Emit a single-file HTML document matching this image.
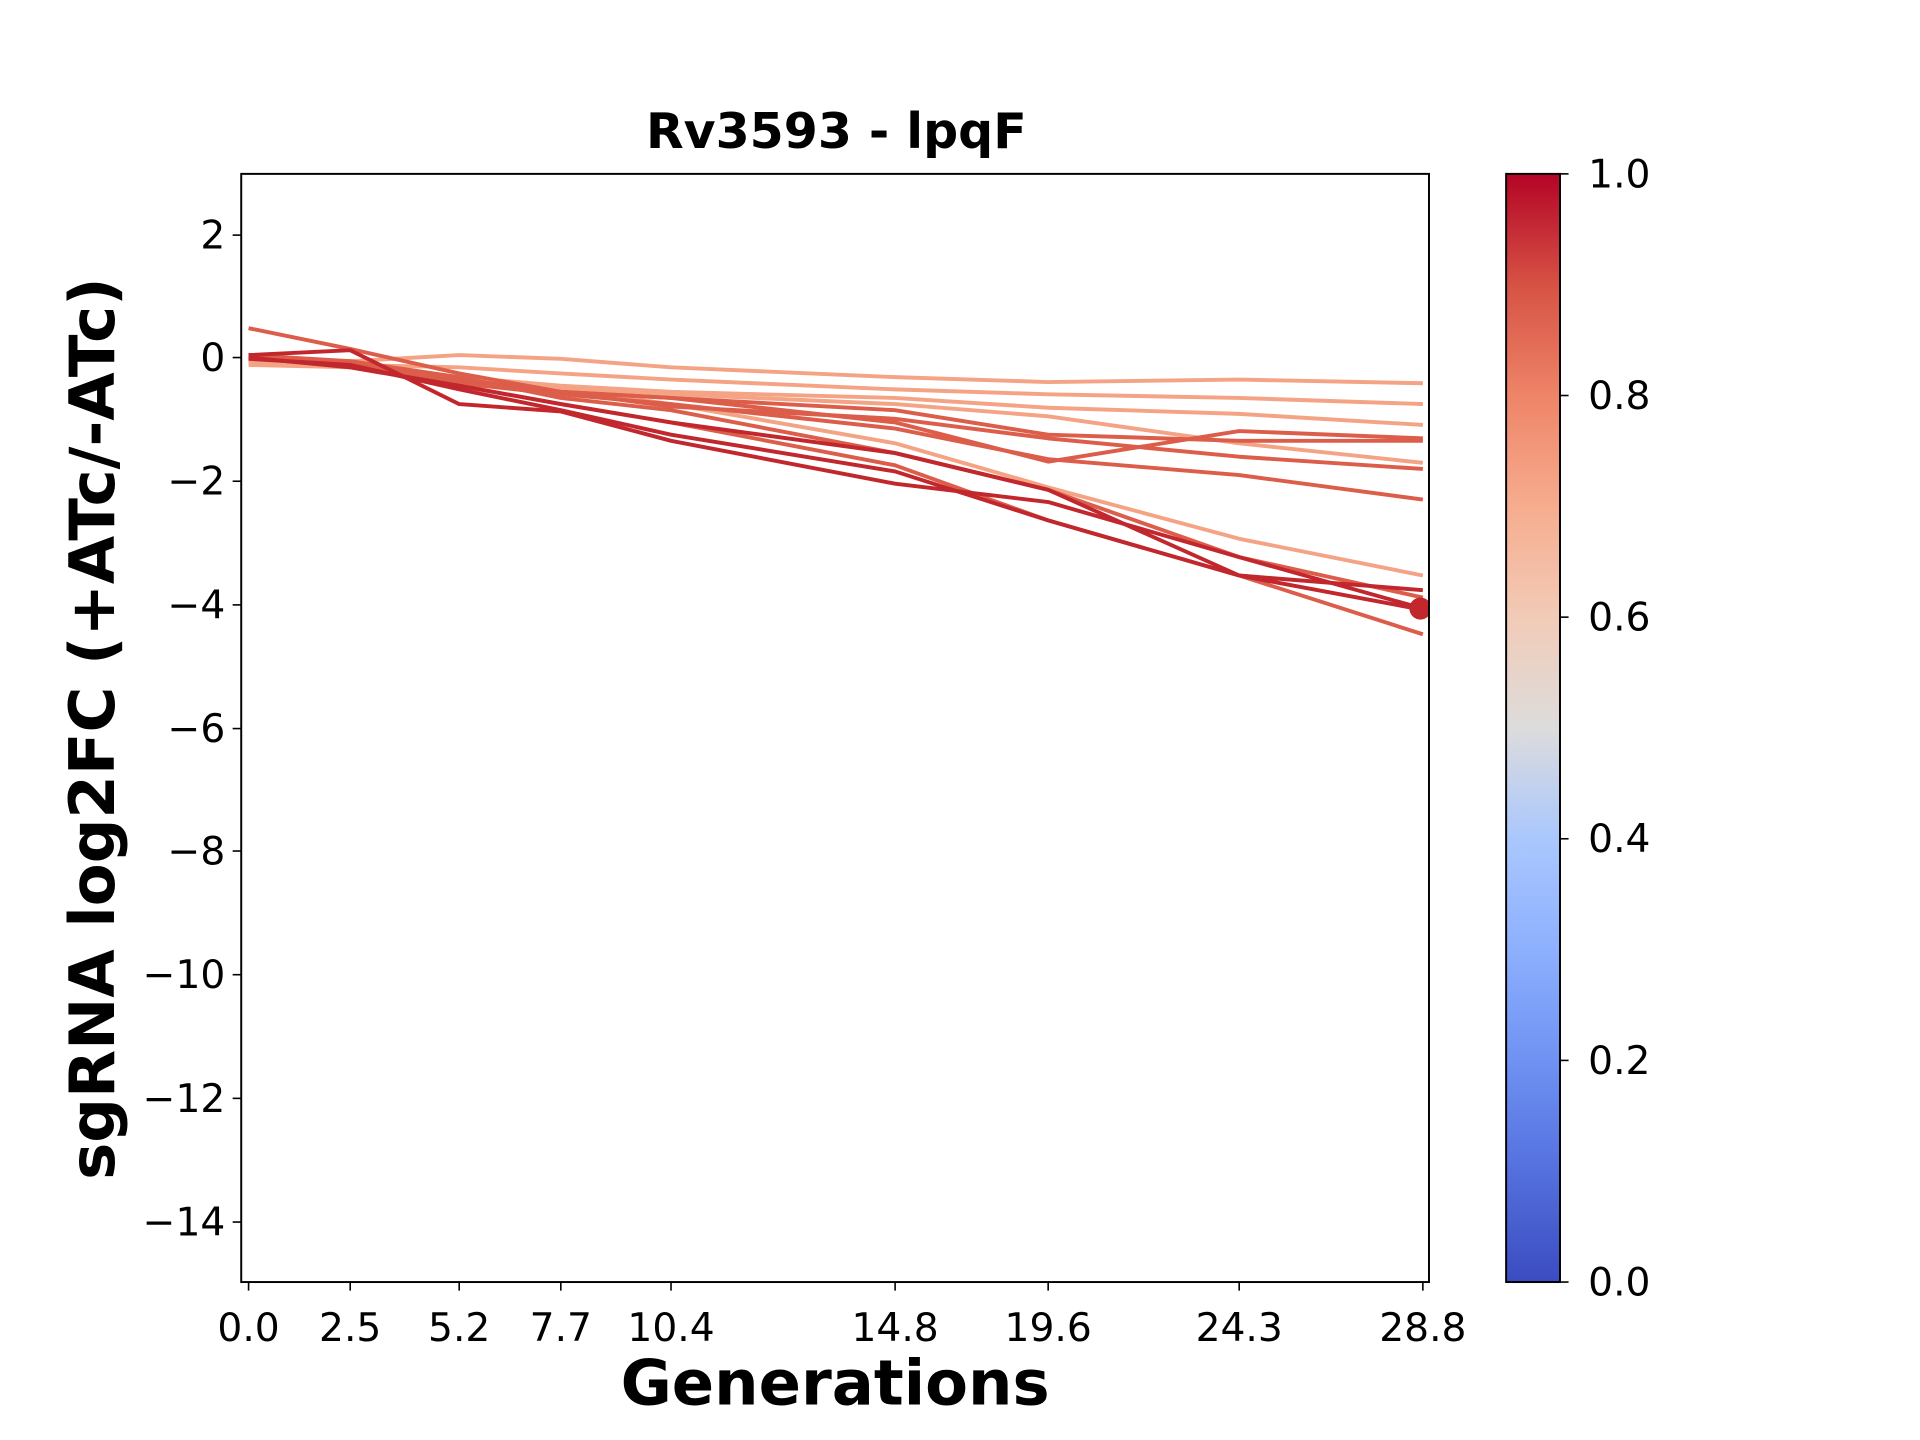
<!DOCTYPE html>
<html><head><meta charset="utf-8"><style>html,body{margin:0;padding:0;background:#fff}svg{display:block}</style></head>
<body>
<svg width="1920" height="1440" viewBox="0 0 1568 1176" preserveAspectRatio="none" xmlns="http://www.w3.org/2000/svg" font-family="'DejaVu Sans','Liberation Sans',sans-serif">
<defs>
<linearGradient id="cw" x1="0" y1="1" x2="0" y2="0">
<stop offset="0" stop-color="#3b4cc0"/>
<stop offset="0.1" stop-color="#5470de"/>
<stop offset="0.2" stop-color="#6f92f3"/>
<stop offset="0.3" stop-color="#8db0fe"/>
<stop offset="0.4" stop-color="#aac7fd"/>
<stop offset="0.5" stop-color="#dddcdc"/>
<stop offset="0.6" stop-color="#f2cbb7"/>
<stop offset="0.7" stop-color="#f7ac8e"/>
<stop offset="0.8" stop-color="#ee8468"/>
<stop offset="0.9" stop-color="#d65244"/>
<stop offset="1" stop-color="#b40426"/>
</linearGradient>
<clipPath id="ax"><rect x="197" y="142" width="970" height="905"/></clipPath>
</defs>
<rect width="1568" height="1176" fill="#fff"/>
<g clip-path="url(#ax)" fill="none" stroke-width="3.2" stroke-linejoin="round">
<g stroke="#f4a384">
<polyline points="203,292 286,295 375,290 458,293 548,300 731,308 856,312 1012,310 1162,313"/>
<polyline points="203,296 286,298 375,300 458,305 548,310 731,318 856,322 1012,325 1162,330"/>
<polyline points="203,298 286,300 375,308 458,315 548,320 731,325 856,333 1012,338 1162,347"/>
<polyline points="203,295 286,300 375,310 458,318 548,322 731,330 856,340 1012,362 1162,378"/>
<polyline points="203,295 286,298 375,310 458,318 548,330 731,362 856,398 1012,440 1162,470"/>
</g>
<g stroke="#dc5d4a">
<polyline points="203,268 286,285 375,305 458,320 548,332 731,342 856,358 1012,373 1162,383"/>
<polyline points="203,290 286,295 375,310 458,320 548,325 731,345 856,377 1012,352 1162,358"/>
<polyline points="203,292 286,298 375,310 458,320 548,325 731,335 856,355 1012,360 1162,360"/>
<polyline points="203,292 286,298 375,313 458,322 548,330 731,350 856,375 1012,388 1162,408"/>
<polyline points="203,292 286,295 375,308 458,325 548,335 731,370 856,400 1012,455 1162,488"/>
<polyline points="203,292 286,300 375,315 458,330 548,345 731,380 856,425 1012,470 1162,518"/>
</g>
<g stroke="#c1272d">
<polyline points="203,290 286,286 375,330 458,336 548,360 731,395 856,410 1012,455 1162,497"/>
<polyline points="203,293 286,298 375,318 458,335 548,355 731,385 856,425 1012,470 1162,498"/>
<polyline points="203,292 286,300 375,315 458,330 548,345 731,370 856,400 1012,470 1162,482"/>
</g>
<circle cx="1160" cy="497" r="9" fill="#c1272d" stroke="none"/>
</g>
<rect x="197" y="142" width="970" height="905" fill="none" stroke="#000" stroke-width="1.6"/>
<g stroke="#000" stroke-width="1.3">
<line x1="197" x2="190" y1="192" y2="192"/><line x1="197" x2="190" y1="292" y2="292"/><line x1="197" x2="190" y1="393" y2="393"/><line x1="197" x2="190" y1="494" y2="494"/><line x1="197" x2="190" y1="595" y2="595"/><line x1="197" x2="190" y1="695" y2="695"/><line x1="197" x2="190" y1="796" y2="796"/><line x1="197" x2="190" y1="897" y2="897"/><line x1="197" x2="190" y1="998" y2="998"/>
<line y1="1047" y2="1054" x1="203" x2="203"/><line y1="1047" y2="1054" x1="286" x2="286"/><line y1="1047" y2="1054" x1="375" x2="375"/><line y1="1047" y2="1054" x1="458" x2="458"/><line y1="1047" y2="1054" x1="548" x2="548"/><line y1="1047" y2="1054" x1="731" x2="731"/><line y1="1047" y2="1054" x1="856" x2="856"/><line y1="1047" y2="1054" x1="1012" x2="1012"/><line y1="1047" y2="1054" x1="1162" x2="1162"/>
</g>
<g font-size="32" text-anchor="end" fill="#000">
<text x="184" y="203">2</text><text x="184" y="303">0</text><text x="184" y="404">−2</text><text x="184" y="505">−4</text><text x="184" y="606">−6</text><text x="184" y="706">−8</text><text x="184" y="807">−10</text><text x="184" y="908">−12</text><text x="184" y="1009">−14</text>
</g>
<g font-size="32" text-anchor="middle" fill="#000">
<text x="203" y="1095">0.0</text><text x="286" y="1095">2.5</text><text x="375" y="1095">5.2</text><text x="458" y="1095">7.7</text><text x="548" y="1095">10.4</text><text x="731" y="1095">14.8</text><text x="856" y="1095">19.6</text><text x="1012" y="1095">24.3</text><text x="1162" y="1095">28.8</text>
</g>
<text x="682" y="1147" font-size="51" font-weight="bold" text-anchor="middle">Generations</text>
<text transform="translate(93,595) rotate(-90)" font-size="51" font-weight="bold" text-anchor="middle">sgRNA log2FC (+ATc/-ATc)</text>
<text x="683" y="121" font-size="40" font-weight="bold" text-anchor="middle">Rv3593 - lpqF</text>
<rect x="1230" y="142" width="44" height="905" fill="url(#cw)" stroke="#000" stroke-width="1.6"/>
<g stroke="#000" stroke-width="1.3">
<line x1="1274" x2="1281" y1="142" y2="142"/><line x1="1274" x2="1281" y1="323" y2="323"/><line x1="1274" x2="1281" y1="504" y2="504"/><line x1="1274" x2="1281" y1="685" y2="685"/><line x1="1274" x2="1281" y1="866" y2="866"/><line x1="1274" x2="1281" y1="1047" y2="1047"/>
</g>
<g font-size="32" fill="#000">
<text x="1297" y="153">1.0</text><text x="1297" y="334">0.8</text><text x="1297" y="515">0.6</text><text x="1297" y="696">0.4</text><text x="1297" y="877">0.2</text><text x="1297" y="1058">0.0</text>
</g>
</svg>
</body></html>
